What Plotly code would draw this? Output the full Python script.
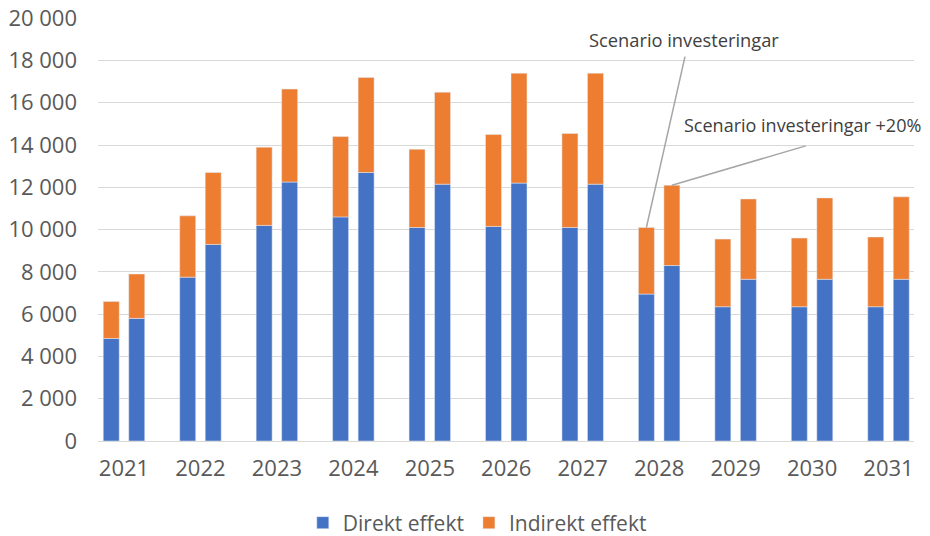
import plotly.graph_objects as go

years = ["2021", "2022", "2023", "2024", "2025", "2026", "2027", "2028", "2029", "2030", "2031"]

# Scenario investeringar
direkt_a = [4850, 7750, 10200, 10600, 10100, 10150, 10100, 6950, 6350, 6350, 6350]
indirekt_a = [1750, 2900, 3700, 3800, 3700, 4350, 4450, 3150, 3200, 3250, 3300]

# Scenario investeringar +20%
direkt_b = [5800, 9300, 12250, 12700, 12150, 12200, 12150, 8300, 7650, 7650, 7650]
indirekt_b = [2100, 3400, 4400, 4500, 4350, 5200, 5250, 3800, 3800, 3850, 3900]

y_ticks = list(range(0, 20001, 2000))

BLUE = "#4472C4"
ORANGE = "#ED7D31"
FONT = "Open Sans"
TXT = "#595959"

fig = go.Figure()
fig.add_trace(go.Bar(x=years, y=direkt_a, name="Direkt effekt", offsetgroup="A",
                     marker_color=BLUE, legendgroup="d", showlegend=True))
fig.add_trace(go.Bar(x=years, y=direkt_b, name="Direkt effekt", offsetgroup="B",
                     marker_color=BLUE, legendgroup="d", showlegend=False))
fig.add_trace(go.Bar(x=years, y=indirekt_a, base=direkt_a, name="Indirekt effekt", offsetgroup="A",
                     marker_color=ORANGE, legendgroup="i", showlegend=True))
fig.add_trace(go.Bar(x=years, y=indirekt_b, base=direkt_b, name="Indirekt effekt", offsetgroup="B",
                     marker_color=ORANGE, legendgroup="i", showlegend=False))

cat_w = 76.45
r0 = -26 / cat_w
r1 = r0 + 816 / cat_w
off = 12.75 / cat_w

# leader lines from labels to the 2028 bar tops
i28 = years.index("2028")
top_a = direkt_a[i28] + indirekt_a[i28]
top_b = direkt_b[i28] + indirekt_b[i28]
line_col = "#A6A6A6"
fig.add_shape(type="line", xref="x", yref="y", x0=i28 - off, y0=top_a,
              x1=7.338, y1=18180, line=dict(color=line_col, width=1.5))
fig.add_shape(type="line", xref="x", yref="y", x0=i28 + off, y0=top_b,
              x1=8.917, y1=13960, line=dict(color=line_col, width=1.5))

fig.add_annotation(x=0.718, y=0.948, xref="paper", yref="paper", xanchor="center", yanchor="middle",
                   text="Scenario investeringar",
                   showarrow=False, font=dict(family=FONT, size=18.3, color="#404040"))
fig.add_annotation(x=0.863, y=0.747, xref="paper", yref="paper", xanchor="center", yanchor="middle",
                   text="Scenario investeringar +20%",
                   showarrow=False, font=dict(family=FONT, size=18, color="#404040"))

fig.update_layout(
    barmode="group",
    bargap=0.333,
    bargroupgap=0.373,
    width=922, height=528,
    margin=dict(l=90, r=16, t=10, b=95, autoexpand=False),
    plot_bgcolor="white", paper_bgcolor="white",
    separators=", ",
    font=dict(family=FONT, size=21, color=TXT),
    legend=dict(orientation="h", xref="container", yref="container",
                x=0.509, xanchor="center", y=0.0246, yanchor="middle",
                itemwidth=30,
                font=dict(family=FONT, size=21, color=TXT), traceorder="normal"),
    showlegend=True,
)
fig.update_xaxes(type="category", range=[r0, r1], showgrid=False, showline=True,
                 linecolor="#D9D9D9", linewidth=1.3, ticks="", ticklabelstandoff=7,
                 automargin=False, tickfont=dict(family=FONT, size=22, color=TXT))
fig.update_yaxes(range=[0, 20010], tickvals=y_ticks, tickformat=",d", showgrid=True,
                 gridcolor="#D9D9D9", gridwidth=1.3, zeroline=False, ticks="",
                 ticklabelstandoff=20, automargin=False, ticklabeloverflow="allow",
                 tickfont=dict(family=FONT, size=22, color=TXT))

fig.write_html("out.html")
